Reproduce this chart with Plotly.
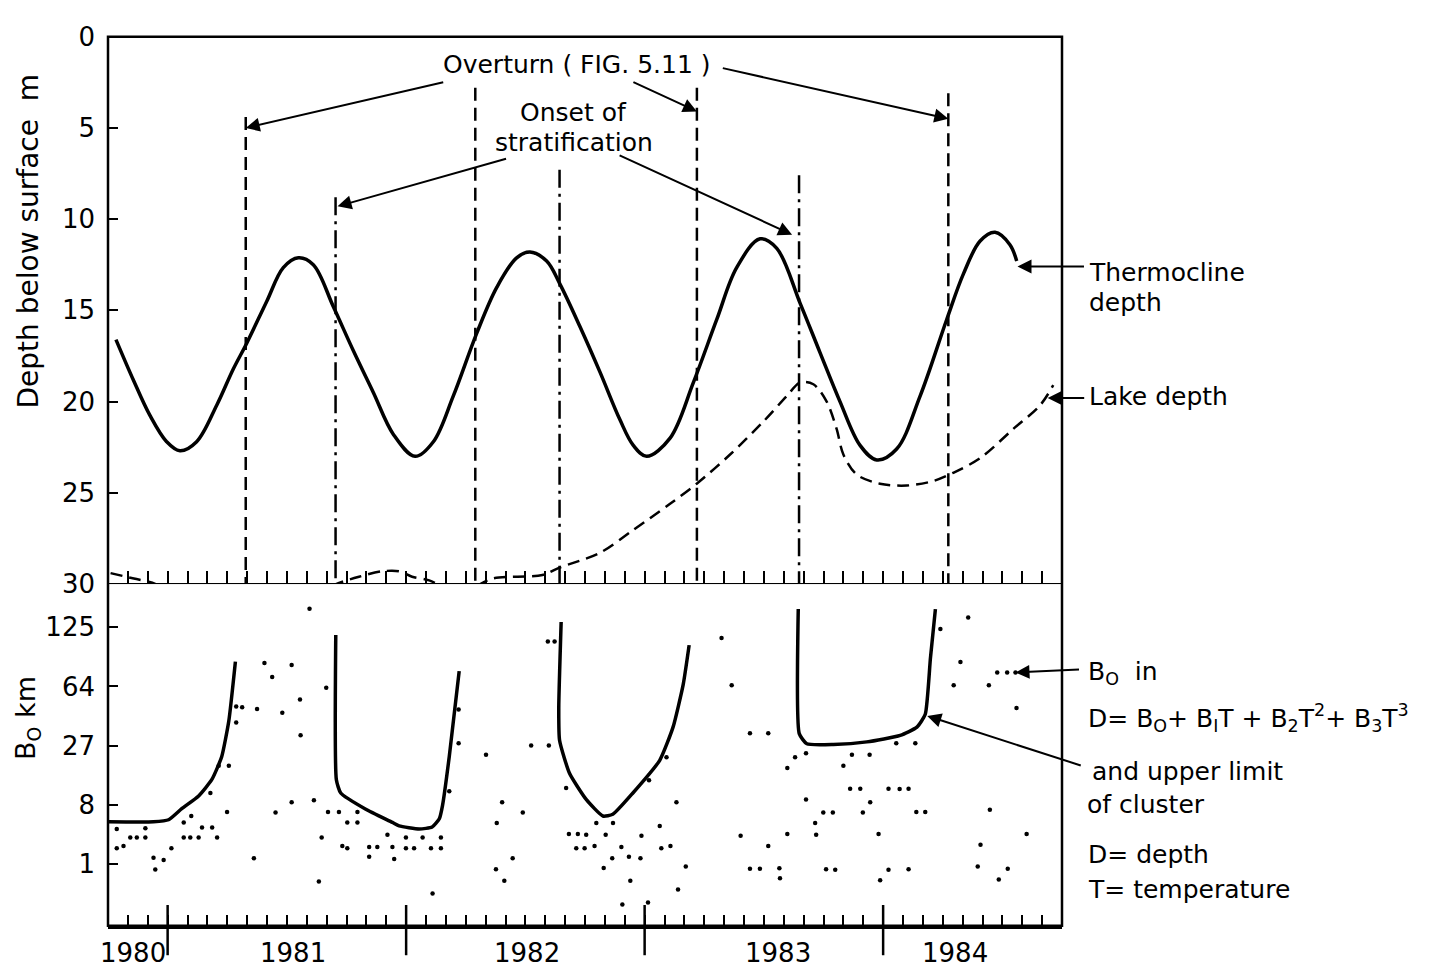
import numpy as np
import plotly.graph_objects as go

# ---------------- data (x in months, 0 = first long year tick) ----------------
THERMO_MONTH = [-2.6, -1.73, -0.89, -0.05, 0.62, 1.46, 2.47, 3.31, 3.98, 4.99, 5.82, 6.58, 7.33,
                8.34, 9.34, 10.35, 11.36, 12.45, 13.37, 14.37, 15.55, 16.56, 17.56, 18.23,
                19.07, 19.74, 20.75, 21.76, 22.76, 23.43, 24.1, 25.28, 26.45, 27.63, 28.63,
                29.81, 30.65, 31.82, 32.82, 33.83, 34.84, 35.68, 36.68, 37.86, 39.2, 40.04,
                40.88, 41.63, 42.38, 42.72]
THERMO_DEPTH = [16.6, 18.8, 20.76, 22.2, 22.7, 22.2, 20.2, 18.2, 16.8, 14.5, 12.66, 12.12, 12.5,
                14.8, 17.2, 19.5, 21.8, 23.0, 22.2, 19.7, 16.26, 13.74, 12.12, 11.8,
                12.3, 13.56, 15.9, 18.4, 21.0, 22.4, 23.0, 22.0, 18.96, 15.5, 12.66,
                11.08, 11.6, 14.6, 17.3, 20.0, 22.4, 23.2, 22.6, 19.7, 15.5, 13.0,
                11.2, 10.72, 11.4, 12.3]

LAKE_MONTH = [-2.87, -1.7, -0.6, 0.05, 1.56, 4.08, 5.45, 6.6, 7.97, 8.47, 9.63, 10.8, 11.65,
              12.3, 13.16, 14.17, 15.03, 15.48, 16.34, 18.86, 19.72, 21.73, 23.4, 25.28,
              26.62, 28.3, 29.97, 31.15, 31.82, 32.49, 33.16, 33.66, 34.0, 34.67, 35.84,
              37.19, 38.53, 39.53, 40.88, 42.55, 43.9, 44.56]
LAKE_DEPTH = [29.4, 29.7, 30.0, 30.5, 30.65, 30.76, 30.8, 30.65, 30.3, 30.0, 29.6, 29.3, 29.3,
              29.6, 29.8, 30.3, 30.4, 30.15, 29.7, 29.5, 29.1, 28.3, 27.06, 25.6,
              24.5, 22.9, 21.1, 19.7, 18.96, 19.05, 20.0, 21.5, 22.9, 24.0, 24.5,
              24.6, 24.35, 23.9, 23.1, 21.5, 20.2, 19.1]

OVERTURN_MONTH = [3.93, 15.48, 26.63, 39.28]
OVERTURN_TOP = [4.4, 2.8, 2.8, 3.1]
STRAT_MONTH = [8.45, 19.72, 31.77]
STRAT_TOP = [8.8, 7.3, 7.6]

SEG1_MONTH = [-2.98, -0.71, 0.05, 0.71, 1.56, 2.22, 2.72, 3.08, 3.41]
SEG1_B0 = [5.0, 5.0, 5.3, 7.2, 9.9, 14.2, 22.2, 40.0, 86.4]
SEG2_MONTH = [8.46, 8.49, 8.71, 9.97, 11.31, 11.65, 12.66, 13.31, 13.67, 13.83, 14.17, 14.67]
SEG2_B0 = [115.5, 14.2, 10.6, 7.1, 4.9, 4.4, 4.0, 4.25, 5.45, 7.8, 22.2, 77.3]
SEG3_MONTH = [19.8, 19.68, 19.72, 20.22, 21.06, 21.9, 22.4, 23.41, 24.76, 25.43, 25.94, 26.24]
SEG3_B0 = [131.9, 48.2, 29.5, 16.2, 9.1, 5.9, 6.2, 10.6, 20.8, 36.3, 65.5, 103.8]
SEG4_MONTH = [31.73, 31.78, 32.16, 33.5, 35.18, 36.86, 37.7, 38.12, 38.38, 38.63]
SEG4_B0 = [149.7, 32.8, 27.8, 27.5, 28.7, 31.9, 36.3, 44.0, 89.9, 149.7]

DOT_MONTH = [-2.56, -2.22, -2.56, -1.88, -1.55, -1.12, -1.12, -0.71, -0.2, -0.62, 0.19, 0.81, 0.81,
             1.14, 1.56, 1.19, 1.73, 2.24, 2.49, 2.15, 2.57, 3.08, 2.99, 3.45, 3.45, 3.75, 4.5,
             4.34, 4.87, 5.26, 6.24, 5.77, 6.66, 6.69, 5.43, 6.24, 7.36, 7.14, 7.98, 7.75, 7.61,
             8.07, 8.62, 8.79, 9.04, 9.04, 9.55, 9.55, 10.14, 10.55, 10.14, 11.06, 11.31, 11.4,
             11.99, 11.99, 12.4,
             12.83, 13.75, 13.25, 13.75, 13.33, 14.17, 14.64, 14.64, 16.02, 16.83, 16.56, 17.87,
             17.36, 16.52, 16.94, 18.29, 19.18, 19.13, 19.47, 20.05, 20.19, 20.64, 21.06, 20.56,
             20.98, 21.48, 21.57, 22.41, 22.04, 21.94, 22.37, 22.83, 23.21, 23.79, 23.84, 23.28,
             22.88, 24.17, 24.22, 24.76, 24.84, 25.3, 25.1, 25.6, 26.07, 25.68,
             27.87, 28.38, 29.3, 30.22, 28.83, 30.22, 29.3, 29.8, 30.78, 30.81, 31.18, 31.18,
             31.57, 32.12, 32.12, 32.58, 32.63, 32.99, 33.47, 33.13, 33.59, 34.0, 34.43, 35.32,
             34.34, 34.85, 35.35, 34.98, 35.77, 35.85, 36.27, 37.28, 36.27, 36.83, 37.28, 36.66,
             37.62, 37.67, 38.12, 38.88, 39.55, 39.89, 40.28, 41.32, 41.74, 42.24, 42.66, 42.71,
             41.37, 40.9, 43.22, 40.76, 41.82, 42.27]
DOT_B0 = [4.0, 2.2, 2.0, 3.0, 3.0, 3.0, 4.1, 1.33, 1.2, 0.73, 2.0, 4.9, 3.0,
          3.0, 3.0, 5.9, 4.2, 4.2, 3.0, 10.6, 18.8, 18.8, 6.6, 49, 39, 48.6, 47.4,
          1.3, 85, 72, 83, 45, 54, 32, 6.5, 8.5, 8.9, 150, 63, 3.0, 0.34,
          6.6, 6.6, 2.2, 2.0, 4.9, 4.9, 6.6, 2.1, 2.1, 1.4, 3.3, 2.1, 1.25,
          3.0, 2.0, 2.0,
          3.0, 3.0, 2.0, 2.0, 0.12, 11, 47, 28, 23, 8.5, 4.8, 6.5,
          1.3, 0.74, 0.36, 27, 27, 108, 108, 11.9, 3.4, 3.4, 3.3, 2.0,
          2.0, 2.2, 4.8, 4.8, 3.3, 0.8, 1.3, 2.1, 1.4, 1.3, 3.2, 0.36,
          0.03, 0.04, 14, 4.4, 2.0, 2.2, 22, 8.5, 0.86, 0.18,
          112, 65, 33, 33, 3.2, 2.2, 0.76, 0.76, 0.78, 0.43, 3.4, 18,
          22, 23.6, 9.1, 4.8, 3.3, 6.5, 6.5, 0.74, 0.72, 18.8, 23, 23,
          11.7, 11.7, 8.5, 6.5, 3.4, 0.37, 0.72, 0.74, 11.7, 11.6, 11.7, 28,
          28, 6.6, 6.6, 123, 65, 86, 138, 65, 76, 76, 76, 48,
          7.0, 2.3, 3.4, 0.86, 0.39, 0.76]

YEAR_LABELS = ["1980", "1981", "1982", "1983", "1984"]
YEAR_LABEL_POS = [-1.75, 6.3, 18.1, 30.7, 39.6]
YEAR_TICKS = [0, 12, 24, 36]
MONTH_TICKS = list(range(-2, 45))
DEPTH_TICKS = [0, 5, 10, 15, 20, 25, 30]
B0_TICKS = [1, 8, 27, 64, 125]

# ---------------- layout geometry ----------------
W, H = 1436, 970
PX_LEFT, PX_RIGHT = 108, 1062
PX_TOP, PX_MID, PX_BOTTOM = 22, 578, 925
FONT = "DejaVu Sans"


def fx(px):
    return px / W


def fy(py):
    return 1 - py / H


DEPTH_PER_PX = 30 / (PX_MID - PX_TOP)
DEPTH_MAX = 30 + (PX_BOTTOM - PX_MID) * DEPTH_PER_PX
C_PER_PX = 1 / 60.0
C_MIN = 1 - (PX_BOTTOM - 862) * C_PER_PX
C_MAX = 1 + (862 - PX_MID) * C_PER_PX

cb = np.cbrt

fig = go.Figure()

# thermocline
fig.add_trace(go.Scatter(x=THERMO_MONTH, y=THERMO_DEPTH, mode="lines",
                         line=dict(color="black", width=3.5, shape="spline", smoothing=1.0),
                         xaxis="x", yaxis="y", showlegend=False))
# lake depth
fig.add_trace(go.Scatter(x=LAKE_MONTH, y=LAKE_DEPTH, mode="lines",
                         line=dict(color="black", width=2.5, dash="12px,7px", shape="spline",
                                   smoothing=0.9),
                         xaxis="x", yaxis="y", showlegend=False))


def vlines(months, tops):
    xs, ys = [], []
    for m, t in zip(months, tops):
        xs += [m, m, None]
        ys += [t, DEPTH_MAX, None]
    return xs, ys


xs, ys = vlines(OVERTURN_MONTH, OVERTURN_TOP)
fig.add_trace(go.Scatter(x=xs, y=ys, mode="lines",
                         line=dict(color="black", width=2.5, dash="13px,7px"),
                         xaxis="x", yaxis="y", showlegend=False))
xs, ys = vlines(STRAT_MONTH, STRAT_TOP)
fig.add_trace(go.Scatter(x=xs, y=ys, mode="lines",
                         line=dict(color="black", width=2.5, dash="18px,6px,3px,6px"),
                         xaxis="x", yaxis="y", showlegend=False))

# B0 curves
for mm, bb in [(SEG1_MONTH, SEG1_B0), (SEG2_MONTH, SEG2_B0), (SEG3_MONTH, SEG3_B0),
               (SEG4_MONTH, SEG4_B0)]:
    fig.add_trace(go.Scatter(x=mm, y=cb(np.array(bb)), mode="lines",
                             line=dict(color="black", width=3.5, shape="spline", smoothing=0.5),
                             xaxis="x2", yaxis="y2", showlegend=False))
# dots
fig.add_trace(go.Scatter(x=DOT_MONTH, y=cb(np.array(DOT_B0)), mode="markers",
                         marker=dict(color="black", size=4.5),
                         xaxis="x2", yaxis="y2", showlegend=False))

tickfont = dict(family=FONT, size=26, color="black")
xdom = [fx(PX_LEFT), fx(PX_RIGHT)]

fig.update_layout(
    width=W, height=H, margin=dict(l=0, r=0, t=0, b=0),
    paper_bgcolor="white", plot_bgcolor="white",
    xaxis=dict(domain=xdom, range=[-3, 45], anchor="free", position=fy(PX_MID),
               showgrid=False, zeroline=False, showline=True, linecolor="black", linewidth=2.5,
               tickmode="array", tickvals=MONTH_TICKS, ticks="inside", ticklen=12,
               tickwidth=2, tickcolor="black", showticklabels=False),
    yaxis=dict(domain=[fy(PX_BOTTOM), fy(PX_TOP)], range=[DEPTH_MAX, 0], anchor="x",
               showgrid=False, zeroline=False, showline=False,
               tickmode="array", tickvals=DEPTH_TICKS, ticks="inside", ticklen=10,
               tickwidth=2, tickcolor="black", tickfont=tickfont, ticklabelstandoff=12),
    xaxis2=dict(domain=xdom, range=[-3, 45], anchor="y2",
                showgrid=False, zeroline=False, showline=True, linecolor="black", linewidth=2.5,
                tickmode="array", tickvals=MONTH_TICKS, ticks="inside", ticklen=11,
                tickwidth=2, tickcolor="black", showticklabels=False),
    yaxis2=dict(domain=[fy(PX_BOTTOM), fy(PX_MID)], range=[C_MIN, C_MAX], anchor="x2",
                showgrid=False, zeroline=False, showline=False,
                tickmode="array", tickvals=list(cb(np.array(B0_TICKS, dtype=float))),
                ticktext=[str(v) for v in B0_TICKS], ticks="inside", ticklen=10,
                tickwidth=2, tickcolor="black", tickfont=tickfont, ticklabelstandoff=12),
)

# frame
fig.add_shape(type="rect", xref="paper", yref="paper", x0=fx(PX_LEFT), x1=fx(PX_RIGHT),
              y0=fy(PX_BOTTOM), y1=fy(PX_TOP), line=dict(color="black", width=2.5))
# long year ticks
for m in YEAR_TICKS:
    fig.add_shape(type="line", xref="x2", yref="paper", x0=m, x1=m, y0=fy(955), y1=fy(904),
                  line=dict(color="black", width=2.5))

ann = []
for lab, pos in zip(YEAR_LABELS, YEAR_LABEL_POS):
    ann.append(dict(x=pos, y=fy(953), xref="x2", yref="paper", text=lab, showarrow=False,
                    font=dict(family=FONT, size=26, color="black"), xanchor="center",
                    yanchor="middle"))

ann.append(dict(x=fx(28), y=fy(230), xref="paper", yref="paper", text="Depth below surface  m",
                textangle=-90, showarrow=False, xanchor="center", yanchor="middle",
                font=dict(family=FONT, size=28, color="black")))
ann.append(dict(x=fx(28), y=fy(714), xref="paper", yref="paper", text="B<sub>O</sub> km",
                textangle=-90, showarrow=False, xanchor="center", yanchor="middle",
                font=dict(family=FONT, size=27, color="black")))

txtfont = dict(family=FONT, size=25, color="black")


def label(px, py, text, anchor="center"):
    ann.append(dict(x=fx(px), y=fy(py), xref="paper", yref="paper", text=text, showarrow=False,
                    font=txtfont, xanchor=anchor, yanchor="middle"))


label(577, 50, "Overturn ( FIG. 5.11 )")
label(573, 99, "Onset of")
label(574, 129, "stratification")
label(1087, 262, "Thermocline", "left")
label(1087, 292, "depth", "left")
label(1087, 387, "Lake depth", "left")
label(1086, 668, "B<sub>O</sub>  in", "left")
label(1086, 714, "D= B<sub>O</sub>+ B<sub>I</sub>T + B<sub>2</sub>T<sup>2</sup>+ B<sub>3</sub>T<sup>3</sup>", "left")
label(1090, 768, "and upper limit", "left")
label(1085, 802, "of cluster", "left")
label(1086, 853, "D= depth", "left")
label(1086, 888, "T= temperature", "left")


def arrow(x, y, ax, ay, xref="x", yref="y"):
    ann.append(dict(x=x, y=y, xref=xref, yref=yref, ax=ax, ay=ay, text="", showarrow=True,
                    arrowhead=2, arrowsize=1.4, arrowwidth=2, arrowcolor="black"))


# overturn arrows (tip in data, tail offset in px)
arrow(OVERTURN_MONTH[0], 5.0, 199, -46)
arrow(OVERTURN_MONTH[2], 4.1, -65, -30)
arrow(OVERTURN_MONTH[3], 4.5, -227, -51)
# stratification arrows
arrow(STRAT_MONTH[0] + 0.1, 9.3, 170, -48)
arrow(31.42, 10.85, -174, -80)
# right side arrows
arrow(42.76, 12.6, 68, 0)
arrow(44.28, 19.8, 38, 0)
arrow(42.66, float(cb(76.0)), 65, -3, "x2", "y2")
arrow(38.22, float(cb(42.9)), 155, 50, "x2", "y2")

fig.update_layout(annotations=ann)
fig.write_html("out.html")
